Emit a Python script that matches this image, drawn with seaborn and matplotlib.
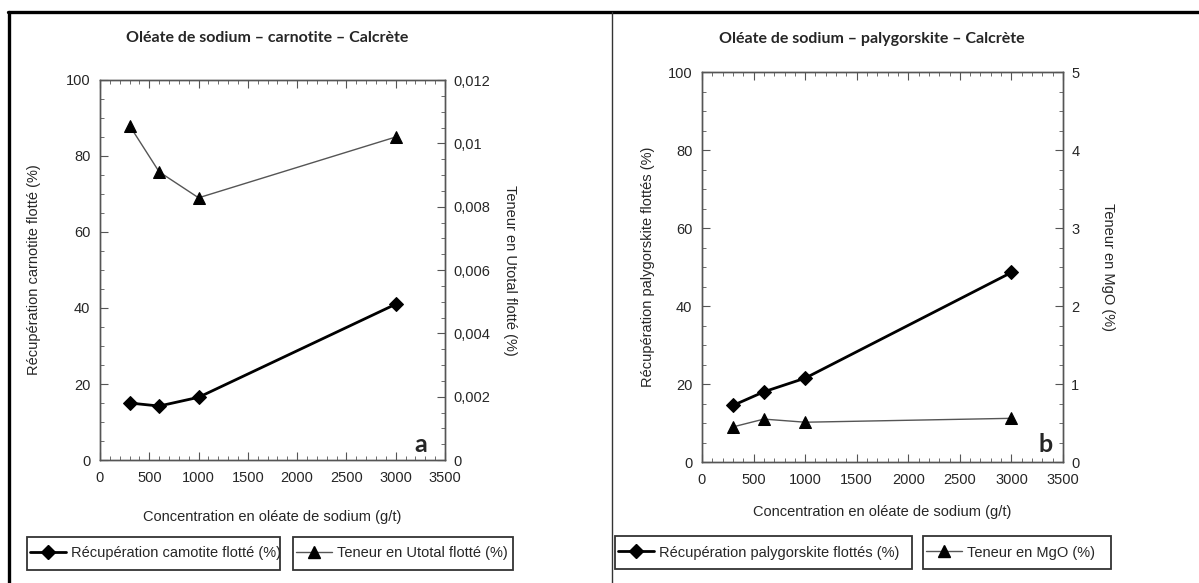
import numpy as np
import pandas as pd
import matplotlib
matplotlib.use('Agg')
import matplotlib.pyplot as plt
import seaborn as sns
from matplotlib.ticker import MultipleLocator, FuncFormatter
from matplotlib.lines import Line2D
from matplotlib.patches import Rectangle

# ----------------------------- #
#  Data
# ----------------------------- #
concentration = [300, 600, 1000, 3000]

# panel a - carnotite
recup_carnotite = [15.0, 14.2, 16.5, 41.0]
teneur_utotal = [0.01056, 0.0091, 0.00828, 0.0102]

# panel b - palygorskite
recup_palygorskite = [14.5, 18.0, 21.5, 48.6]
teneur_mgo = [0.45, 0.55, 0.51, 0.56]

titles = ['Oléate de sodium – carnotite – Calcrète',
          'Oléate de sodium – palygorskite – Calcrète']
left_labels = ['Récupération carnotite flotté (%)', 'Récupération palygorskite flottés (%)']
right_labels = ['Teneur en Utotal flotté (%)', 'Teneur en MgO (%)']
legend_left = ['Récupération camotite flotté (%)', 'Récupération palygorskite flottés (%)']
legend_right = ['Teneur en Utotal flotté (%)', 'Teneur en MgO (%)']
xlabel = 'Concentration en oléate de sodium (g/t)'
panel_tags = ['a', 'b']

df_a = pd.DataFrame({'conc': concentration, 'recup': recup_carnotite, 'teneur': teneur_utotal})
df_b = pd.DataFrame({'conc': concentration, 'recup': recup_palygorskite, 'teneur': teneur_mgo})

# ----------------------------- #
#  Style
# ----------------------------- #
sns.set_style('ticks')
plt.rcParams['font.family'] = ['Liberation Sans', 'DejaVu Sans']

comma = FuncFormatter(lambda v, p: ('%g' % round(v, 6)).replace('.', ','))

fig = plt.figure(figsize=(11.99, 5.83), dpi=100)
W, H = 1199, 583

def fx(px):
    return px / W

def fy(py):
    return 1 - py / H

panels = [
    dict(df=df_a, box=(100, 80, 445, 460), rmax=0.012, rmajor=0.002, rminor=0.0005,
         title_xy=(267, 38), xlab_y=517, ll_x=34, rl_x=510, tag_xy=(421, 445),
         leg1=(27, 537, 280, 570), leg2=(293, 537, 513, 570)),
    dict(df=df_b, box=(702, 72, 1063, 462), rmax=5, rmajor=1, rminor=0.25,
         title_xy=(872, 39), xlab_y=512, ll_x=648, rl_x=1108, tag_xy=(1046, 444),
         leg1=(615, 536, 912, 569), leg2=(923, 536, 1111, 569)),
]

for i, p in enumerate(panels):
    x0, y0, x1, y1 = p['box']
    ax = fig.add_axes([fx(x0), fy(y1), fx(x1 - x0), (y1 - y0) / H])
    ax2 = ax.twinx()
    df = p['df']

    sns.lineplot(data=df, x='conc', y='recup', ax=ax, color='black', linewidth=2,
                 marker='D', markersize=7, markeredgecolor='black', legend=False)
    sns.lineplot(data=df, x='conc', y='teneur', ax=ax2, color='#555555', linewidth=1,
                 marker='^', markersize=9, markerfacecolor='black',
                 markeredgecolor='black', legend=False)

    ax.set_xlim(0, 3500)
    ax.set_ylim(0, 100)
    ax2.set_ylim(0, p['rmax'])
    ax.xaxis.set_major_locator(MultipleLocator(500))
    ax.xaxis.set_minor_locator(MultipleLocator(100))
    ax.yaxis.set_major_locator(MultipleLocator(20))
    ax.yaxis.set_minor_locator(MultipleLocator(5))
    ax2.yaxis.set_major_locator(MultipleLocator(p['rmajor']))
    ax2.yaxis.set_minor_locator(MultipleLocator(p['rminor']))
    ax2.yaxis.set_major_formatter(comma)

    ax.tick_params(which='both', direction='in', top=True, right=False, labelsize=10.5,
                   color='#555555')
    ax.tick_params(which='major', length=6)
    ax.tick_params(which='minor', length=3)
    ax.tick_params(axis='y', pad=7)
    ax2.tick_params(which='both', direction='in', labelsize=10.5, color='#555555')
    ax2.tick_params(which='major', length=6, pad=6)
    ax2.tick_params(which='minor', length=3)
    ax.tick_params(axis='x', pad=8)

    for a in (ax, ax2):
        for s in a.spines.values():
            s.set_visible(True)
            s.set_color('#555555')
            s.set_linewidth(1)

    ax.set_xlabel('')
    ax.set_ylabel('')
    ax2.set_ylabel('')

    fig.text(fx(p['title_xy'][0]), fy(p['title_xy'][1]), titles[i], ha='center', va='center',
             fontsize=11.5, fontweight='bold', family=['Lato', 'DejaVu Sans'])
    fig.text(fx((x0 + x1) / 2), fy(p['xlab_y']), xlabel, ha='center', va='center', fontsize=10.5)
    fig.text(fx(p['ll_x']), fy((y0 + y1) / 2), left_labels[i], rotation=90,
             ha='center', va='center', fontsize=10.5)
    fig.text(fx(p['rl_x']), fy((y0 + y1) / 2), right_labels[i], rotation=270,
             ha='center', va='center', fontsize=10.5)
    fig.text(fx(p['tag_xy'][0]), fy(p['tag_xy'][1]), panel_tags[i], ha='center', va='center',
             fontsize=18, fontweight='bold', family=['Lato', 'DejaVu Sans'])

    h1 = Line2D([], [], color='black', linewidth=2, marker='D', markersize=7)
    h2 = Line2D([], [], color='#555555', linewidth=1, marker='^', markersize=9,
                markerfacecolor='black', markeredgecolor='black')
    for h, lab, b in ((h1, legend_left[i], p['leg1']), (h2, legend_right[i], p['leg2'])):
        bx0, by0, bx1, by1 = b
        fig.add_artist(Rectangle((fx(bx0), fy(by1)), fx(bx1 - bx0), (by1 - by0) / H,
                                 fill=False, edgecolor='#333333', linewidth=1.3))
        fig.legend([h], [lab], loc='center left',
                   bbox_to_anchor=(fx(bx0 + 3), fy((by0 + by1) / 2)),
                   fontsize=10.5, frameon=False, handlelength=2.5, handletextpad=0.3,
                   borderpad=0, borderaxespad=0)

# panel borders
fig.add_artist(Line2D([fx(8), 1], [fy(11.5), fy(11.5)], color='black', linewidth=2.4))
fig.add_artist(Line2D([fx(8.5), fx(8.5)], [fy(11.5), 0], color='black', linewidth=2.4))
fig.add_artist(Line2D([fx(612), fx(612)], [fy(11.5), 0], color='#333333', linewidth=1))

fig.savefig('out.png', dpi=100)
